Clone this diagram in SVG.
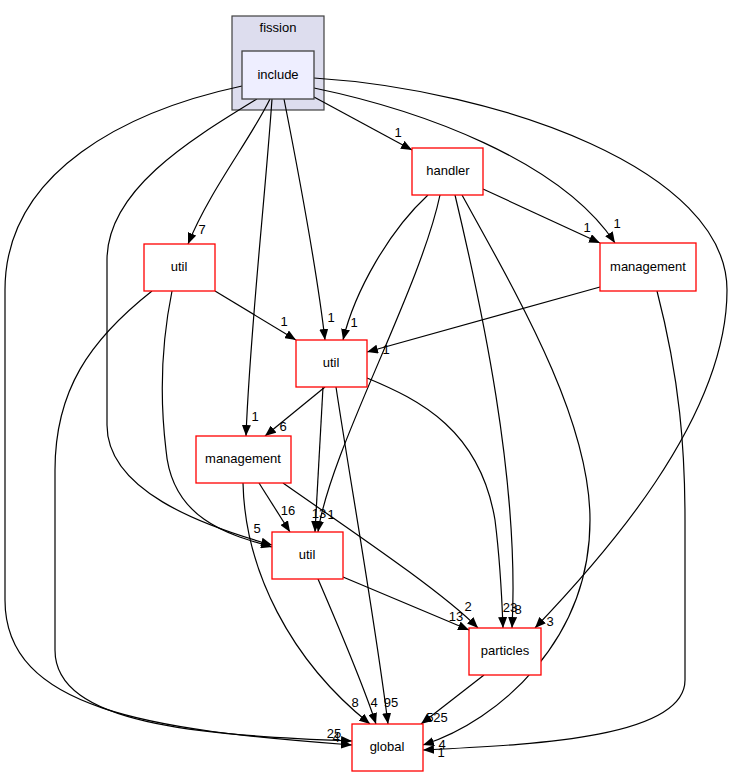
<svg xmlns="http://www.w3.org/2000/svg" width="735" height="777" viewBox="0 0 735 777">
<defs>
<marker id="a" markerWidth="11" markerHeight="9" refX="11" refY="4.5" orient="auto" markerUnits="userSpaceOnUse"><path d="M0,0 L11,4.5 L0,9 z" fill="#000"/></marker>
<style>
.e{fill:none;stroke:#000;stroke-width:1.2;marker-end:url(#a)}
.n{fill:#fff;stroke:#ff0000;stroke-width:1.3}
.t{font-family:"Liberation Sans",Arial,sans-serif;font-size:13px;text-anchor:middle;fill:#000}
.l{font-family:"Liberation Sans",Arial,sans-serif;font-size:13px;text-anchor:middle;fill:#000}
</style>
</defs>
<rect width="735" height="777" fill="#fff"/>
<g id="cluster_fission">
<rect x="232" y="16" width="92" height="94" fill="#ddddee" stroke="#404040" stroke-width="1.2"/>
<text class="t" x="278" y="32">fission</text>
</g>
<g id="edges">
<path class="e" d="M242,86 C130,110 5,170 5,290 L5,600 C5,710 150,730 352,745"/>
<path class="e" d="M257,99 C190,140 107,190 107,260 L107,425 C107,490 200,525 272,545"/>
<path class="e" d="M270,99 C250,140 210,190 188,244"/>
<path class="e" d="M272,99 C265,200 250,330 246,436"/>
<path class="e" d="M284,99 C300,180 318,280 325,340"/>
<path class="e" d="M314,97 L412,150"/>
<path class="e" d="M314,88 C420,110 560,160 615,243"/>
<path class="e" d="M314,78 C500,90 727,170 727,290 C727,420 600,560 535,628"/>
<path class="e" d="M483,189 L600,243"/>
<path class="e" d="M428,195 C390,230 355,290 343,340"/>
<path class="e" d="M440,195 C420,290 330,450 318,532"/>
<path class="e" d="M455,195 C480,300 520,480 512,628"/>
<path class="e" d="M462,195 C520,300 590,420 590,520 C590,640 500,720 423,745"/>
<path class="e" d="M600,287 L367,352"/>
<path class="e" d="M657,291 C680,380 685,450 685,520 L685,680 C685,740 520,745 423,750"/>
<path class="e" d="M215,291 L296,340"/>
<path class="e" d="M172,291 C160,350 160,400 166,450 C172,520 230,535 272,547"/>
<path class="e" d="M152,291 C90,340 55,390 55,470 L55,650 C55,725 200,735 352,741"/>
<path class="e" d="M325,387 L265,436"/>
<path class="e" d="M323,387 L315,532"/>
<path class="e" d="M336,387 C350,480 375,620 388,724"/>
<path class="e" d="M367,378 C420,400 480,430 495,520 C500,560 502,600 503,628"/>
<path class="e" d="M259,483 L290,532"/>
<path class="e" d="M243,483 C245,570 290,660 370,724"/>
<path class="e" d="M283,483 C350,530 440,590 478,628"/>
<path class="e" d="M343,577 L469,630"/>
<path class="e" d="M318,579 C340,630 365,690 376,724"/>
<path class="e" d="M484,675 L421,724"/>
<g id="edge_labels">
<text class="l" x="202" y="234">7</text>
<text class="l" x="255" y="421">1</text>
<text class="l" x="331" y="322">1</text>
<text class="l" x="398" y="137">1</text>
<text class="l" x="617" y="228">1</text>
<text class="l" x="550" y="626">3</text>
<text class="l" x="587" y="232">1</text>
<text class="l" x="354" y="327">1</text>
<text class="l" x="331" y="519">1</text>
<text class="l" x="319" y="518">13</text>
<text class="l" x="510" y="612">23</text>
<text class="l" x="518" y="614">8</text>
<text class="l" x="442" y="749">4</text>
<text class="l" x="386" y="354">1</text>
<text class="l" x="441" y="757">1</text>
<text class="l" x="284" y="326">1</text>
<text class="l" x="257" y="533">5</text>
<text class="l" x="334" y="738">25</text>
<text class="l" x="336" y="742">4</text>
<text class="l" x="283" y="431">6</text>
<text class="l" x="391" y="707">95</text>
<text class="l" x="374" y="707">4</text>
<text class="l" x="288" y="515">16</text>
<text class="l" x="355" y="707">8</text>
<text class="l" x="468" y="611">2</text>
<text class="l" x="456" y="621">13</text>
<text class="l" x="437" y="722">525</text>
</g>
</g>
<g id="include">
<rect x="242" y="51" width="72" height="48" fill="#eeeeff" stroke="#404040" stroke-width="1.3"/>
<text class="t" x="278" y="79">include</text>
</g>
<g id="handler">
<rect class="n" x="412" y="148" width="71" height="47"/>
<text class="t" x="448" y="175">handler</text>
</g>
<g id="management_right">
<rect class="n" x="600" y="243" width="96" height="48"/>
<text class="t" x="648" y="271">management</text>
</g>
<g id="util_left">
<rect class="n" x="144" y="244" width="71" height="47"/>
<text class="t" x="179" y="271">util</text>
</g>
<g id="util_mid">
<rect class="n" x="296" y="340" width="71" height="47"/>
<text class="t" x="331" y="367">util</text>
</g>
<g id="management_left">
<rect class="n" x="196" y="436" width="95" height="47"/>
<text class="t" x="243" y="463">management</text>
</g>
<g id="util_bottom">
<rect class="n" x="272" y="532" width="71" height="47"/>
<text class="t" x="307" y="559">util</text>
</g>
<g id="particles">
<rect class="n" x="469" y="628" width="72" height="47"/>
<text class="t" x="505" y="655">particles</text>
</g>
<g id="global">
<rect class="n" x="352" y="724" width="71" height="47"/>
<text class="t" x="387" y="751">global</text>
</g>
</svg>
